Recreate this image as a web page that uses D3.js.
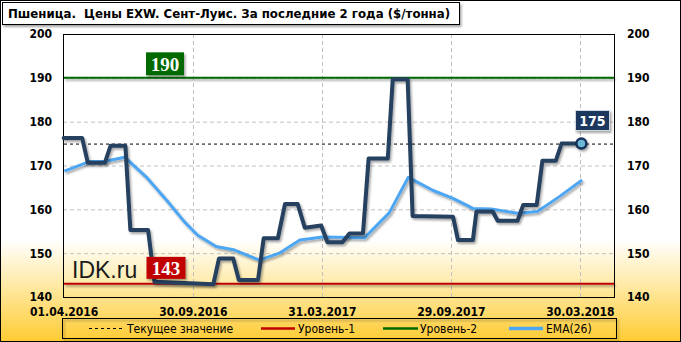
<!DOCTYPE html>
<html>
<head>
<meta charset="utf-8">
<script src="https://cdn.jsdelivr.net/npm/d3@7"></script>
<style>
  body { margin: 0; background: #fff; }
  svg { display: block; font-family: "DejaVu Sans Condensed", "DejaVu Sans", sans-serif; }
</style>
</head>
<body>
<div id="chart"></div>
<script>
// weekly price vertices ($/t)
const priceDates = ["2016-04-01", "2016-04-27", "2016-05-05", "2016-05-29", "2016-06-06", "2016-06-27",
	"2016-07-04", "2016-07-29", "2016-08-07", "2016-10-29", "2016-11-06", "2016-11-26", "2016-12-04",
	"2016-12-31", "2017-01-08", "2017-01-28", "2017-02-07", "2017-02-25", "2017-03-07", "2017-03-30",
	"2017-04-08", "2017-04-29", "2017-05-09", "2017-05-28", "2017-06-05", "2017-07-02", "2017-07-09",
	"2017-07-30", "2017-08-06", "2017-10-02", "2017-10-09", "2017-10-30", "2017-11-04", "2017-11-27",
	"2017-12-04", "2018-01-01", "2018-01-09", "2018-01-28", "2018-02-05", "2018-02-24", "2018-03-04",
	"2018-04-01"];
const priceValues = [176.3, 176.3, 170.6, 170.6, 174.5, 174.5,
	155.3, 155.3, 143.5, 142.9, 148.8, 148.8, 143.9,
	143.9, 153.4, 153.4, 161.2, 161.2, 155.8, 156.3,
	152.5, 152.5, 154.5, 154.5, 171.6, 171.6, 189.7,
	189.7, 158.5, 158.3, 153.0, 153.0, 159.5, 159.5,
	157.4, 157.4, 161.0, 161.0, 171.1, 171.1, 175.0,
	175.0];

const emaDates = ["2016-04-02", "2016-05-07", "2016-05-28", "2016-06-26", "2016-07-28", "2016-08-25",
	"2016-09-18", "2016-10-07", "2016-11-02", "2016-11-28", "2017-01-02", "2017-01-30", "2017-02-28",
	"2017-04-01", "2017-05-30", "2017-07-04", "2017-07-31", "2017-09-04", "2017-10-02", "2017-10-30",
	"2017-11-25", "2018-01-01", "2018-01-29", "2018-03-01", "2018-04-02"];
const emaValues = [168.7, 170.9, 170.9, 171.9, 167.1, 161.9,
	157.2, 154.1, 151.5, 150.7, 148.4, 150.0, 153.0,
	153.7, 153.5, 159.2, 167.3, 164.3, 162.5, 160.2,
	160.1, 159.1, 159.5, 162.9, 166.7];

const currentValue = 175;
const level1 = 143;
const level2 = 190;

const yTicks = [140, 150, 160, 170, 180, 190, 200];
const xTickDates = ["2016-04-01", "2016-09-30", "2017-03-31", "2017-09-29", "2018-03-30"];
const xTickLabels = ["01.04.2016", "30.09.2016", "31.03.2017", "29.09.2017", "30.03.2018"];

const titleText = "Пшеница.  Цены EXW. Сент-Луис. За последние 2 года ($/тонна)";
const legendLabels = ["Текущее значение", "Уровень-1", "Уровень-2", "EMA(26)"];

const W = 681, H = 342;
const plot = { left: 63, right: 614, top: 34, bottom: 297 };
const parse = d3.utcParse("%Y-%m-%d");

const svg = d3.select("#chart").append("svg").attr("width", W).attr("height", H);
const defs = svg.append("defs");

const bg = defs.append("linearGradient").attr("id", "bg").attr("x1", 0).attr("y1", 0).attr("x2", 0).attr("y2", 1);
bg.append("stop").attr("offset", "0%").attr("stop-color", "#ffffff");
bg.append("stop").attr("offset", "70%").attr("stop-color", "#ffffff");
bg.append("stop").attr("offset", "79%").attr("stop-color", "#fff1c4");
bg.append("stop").attr("offset", "100%").attr("stop-color", "#ffcc33");

// user-space filter so flat horizontal lines keep their shadow
const shadow = defs.append("filter").attr("id", "shadow").attr("filterUnits", "userSpaceOnUse")
	.attr("x", 0).attr("y", 0).attr("width", W).attr("height", H);
shadow.append("feDropShadow").attr("dx", 1.5).attr("dy", 2).attr("stdDeviation", 1.2)
	.attr("flood-color", "#000").attr("flood-opacity", 0.35);

svg.append("rect").attr("x", 0.5).attr("y", 0.5).attr("width", W - 1).attr("height", H - 1)
	.attr("fill", "url(#bg)").attr("stroke", "#000");

// title
svg.append("rect").attr("x", 2.5).attr("y", 2.5).attr("width", 457).attr("height", 22)
	.attr("fill", "#fff").attr("stroke", "#000").attr("filter", "url(#shadow)");
svg.append("text").attr("x", 8).attr("y", 18).attr("font-size", 13.1).attr("font-weight", "bold")
	.attr("fill", "#000").style("white-space", "pre").text(titleText);

const x = d3.scaleUtc().domain([parse("2016-03-31"), parse("2018-05-17")]).range([plot.left, plot.right]);
const y = d3.scaleLinear().domain([140, 200]).range([plot.bottom, plot.top]);

// grid
svg.append("g").selectAll("line").data(yTicks.slice(1, -1)).join("line")
	.attr("x1", plot.left).attr("x2", plot.right).attr("y1", (d) => y(d) + 0.5).attr("y2", (d) => y(d) + 0.5)
	.attr("stroke", "#c0c0c0").attr("stroke-dasharray", "4,3");
svg.append("g").selectAll("line").data(xTickDates.slice(1)).join("line")
	.attr("x1", (d) => Math.round(x(parse(d))) + 0.5).attr("x2", (d) => Math.round(x(parse(d))) + 0.5)
	.attr("y1", plot.top).attr("y2", plot.bottom)
	.attr("stroke", "#c0c0c0").attr("stroke-dasharray", "4,3");

svg.append("rect").attr("x", plot.left + 0.5).attr("y", plot.top + 0.5)
	.attr("width", plot.right - plot.left).attr("height", plot.bottom - plot.top)
	.attr("fill", "none").attr("stroke", "#000");

// axes
const yLeft = svg.append("g").attr("transform", `translate(${plot.left},0)`)
	.call(d3.axisLeft(y).tickValues(yTicks).tickSize(0).tickPadding(11));
const yRight = svg.append("g").attr("transform", `translate(${plot.right},0)`)
	.call(d3.axisRight(y).tickValues(yTicks).tickSize(0).tickPadding(13));
const xAxis = svg.append("g").attr("transform", `translate(0,${plot.bottom})`)
	.call(d3.axisBottom(x).tickValues(xTickDates.map(parse)).tickSize(0).tickPadding(10)
		.tickFormat((d, i) => xTickLabels[i]));
[yLeft, yRight, xAxis].forEach((g) => {
	g.select(".domain").remove();
	g.selectAll("text").attr("font-size", 12).attr("font-weight", "bold").attr("fill", "#000")
		.attr("font-family", "\"DejaVu Sans Condensed\", \"DejaVu Sans\", sans-serif");
});

// level lines
svg.append("line").attr("x1", plot.left + 1).attr("x2", plot.right).attr("y1", y(level2)).attr("y2", y(level2))
	.attr("stroke", "#006a00").attr("stroke-width", 2).attr("filter", "url(#shadow)");
svg.append("line").attr("x1", plot.left + 1).attr("x2", plot.right).attr("y1", y(level1)).attr("y2", y(level1))
	.attr("stroke", "#c00000").attr("stroke-width", 2).attr("filter", "url(#shadow)");
svg.append("line").attr("x1", plot.left + 1).attr("x2", plot.right).attr("y1", y(currentValue) + 0.5).attr("y2", y(currentValue) + 0.5)
	.attr("stroke", "#000").attr("stroke-dasharray", "3,3");

// series
const price = priceDates.map((d, i) => [parse(d), priceValues[i]]);
const ema = emaDates.map((d, i) => [parse(d), emaValues[i]]);
const line = d3.line().x((d) => x(d[0])).y((d) => y(d[1]));

svg.append("path").attr("d", line(ema)).attr("fill", "none").attr("stroke", "#4da6f2")
	.attr("stroke-width", 3).attr("stroke-linejoin", "round").attr("filter", "url(#shadow)");
svg.append("path").attr("d", line(price)).attr("fill", "none").attr("stroke", "#253f5f")
	.attr("stroke-width", 4).attr("stroke-linejoin", "round").attr("stroke-linecap", "round")
	.attr("filter", "url(#shadow)");

const last = price[price.length - 1];
svg.append("circle").attr("cx", x(last[0])).attr("cy", y(last[1])).attr("r", 5)
	.attr("fill", "#6bb8d4").attr("stroke", "#14305a").attr("stroke-width", 2.5).attr("filter", "url(#shadow)");

// value tags
const tag = (cx, cy, w, h, fill, txt, font) => {
	svg.append("rect").attr("x", cx - w / 2).attr("y", cy - h / 2).attr("width", w).attr("height", h)
		.attr("fill", fill).attr("filter", "url(#shadow)");
	svg.append("text").attr("x", cx).attr("y", cy).attr("dy", "0.36em").attr("text-anchor", "middle")
		.attr("fill", "#fff").attr("font-weight", "bold").style("font", font).text(txt);
};
tag(165, y(level2) - 14, 38, 23, "#006a00", level2, "bold 19px 'Liberation Serif', serif");
tag(166, y(level1) - 16, 39, 22, "#c00000", level1, "bold 19px 'Liberation Serif', serif");
svg.append("rect").attr("x", 575.5).attr("y", 110.5).attr("width", 34).attr("height", 20)
	.attr("fill", "#1c375e").attr("stroke", "#d0d8e0").attr("filter", "url(#shadow)");
svg.append("text").attr("x", 592.5).attr("y", 120.5).attr("dy", "0.36em").attr("text-anchor", "middle")
	.attr("fill", "#fff").attr("font-size", 14).attr("font-weight", "bold").text(currentValue);

svg.append("text").attr("x", 72).attr("y", 278).attr("font-family", "'Liberation Sans', Arial, sans-serif")
	.attr("font-size", 23).attr("fill", "#1a1a1a").text("IDK.ru");

// legend
svg.append("rect").attr("x", 62.5).attr("y", 318.5).attr("width", 554).attr("height", 20)
	.attr("fill", "none").attr("stroke", "#000").attr("filter", "url(#shadow)");
const legendItems = [
	{ x0: 89, x1: 122, tx: 127, color: "#000", dash: "3,3", w: 1 },
	{ x0: 261, x1: 295, tx: 298, color: "#c00000", dash: null, w: 2.5 },
	{ x0: 383, x1: 418, tx: 420, color: "#006a00", dash: null, w: 2.5 },
	{ x0: 509, x1: 543, tx: 546, color: "#4da6f2", dash: null, w: 3.5 }
];
legendItems.forEach((it, i) => {
	svg.append("line").attr("x1", it.x0).attr("x2", it.x1).attr("y1", 328.5).attr("y2", 328.5)
		.attr("stroke", it.color).attr("stroke-width", it.w).attr("stroke-dasharray", it.dash);
	svg.append("text").attr("x", it.tx).attr("y", 328.5).attr("dy", "0.35em").attr("font-size", 12)
		.attr("fill", "#000").text(legendLabels[i]);
});
</script>
</body>
</html>
